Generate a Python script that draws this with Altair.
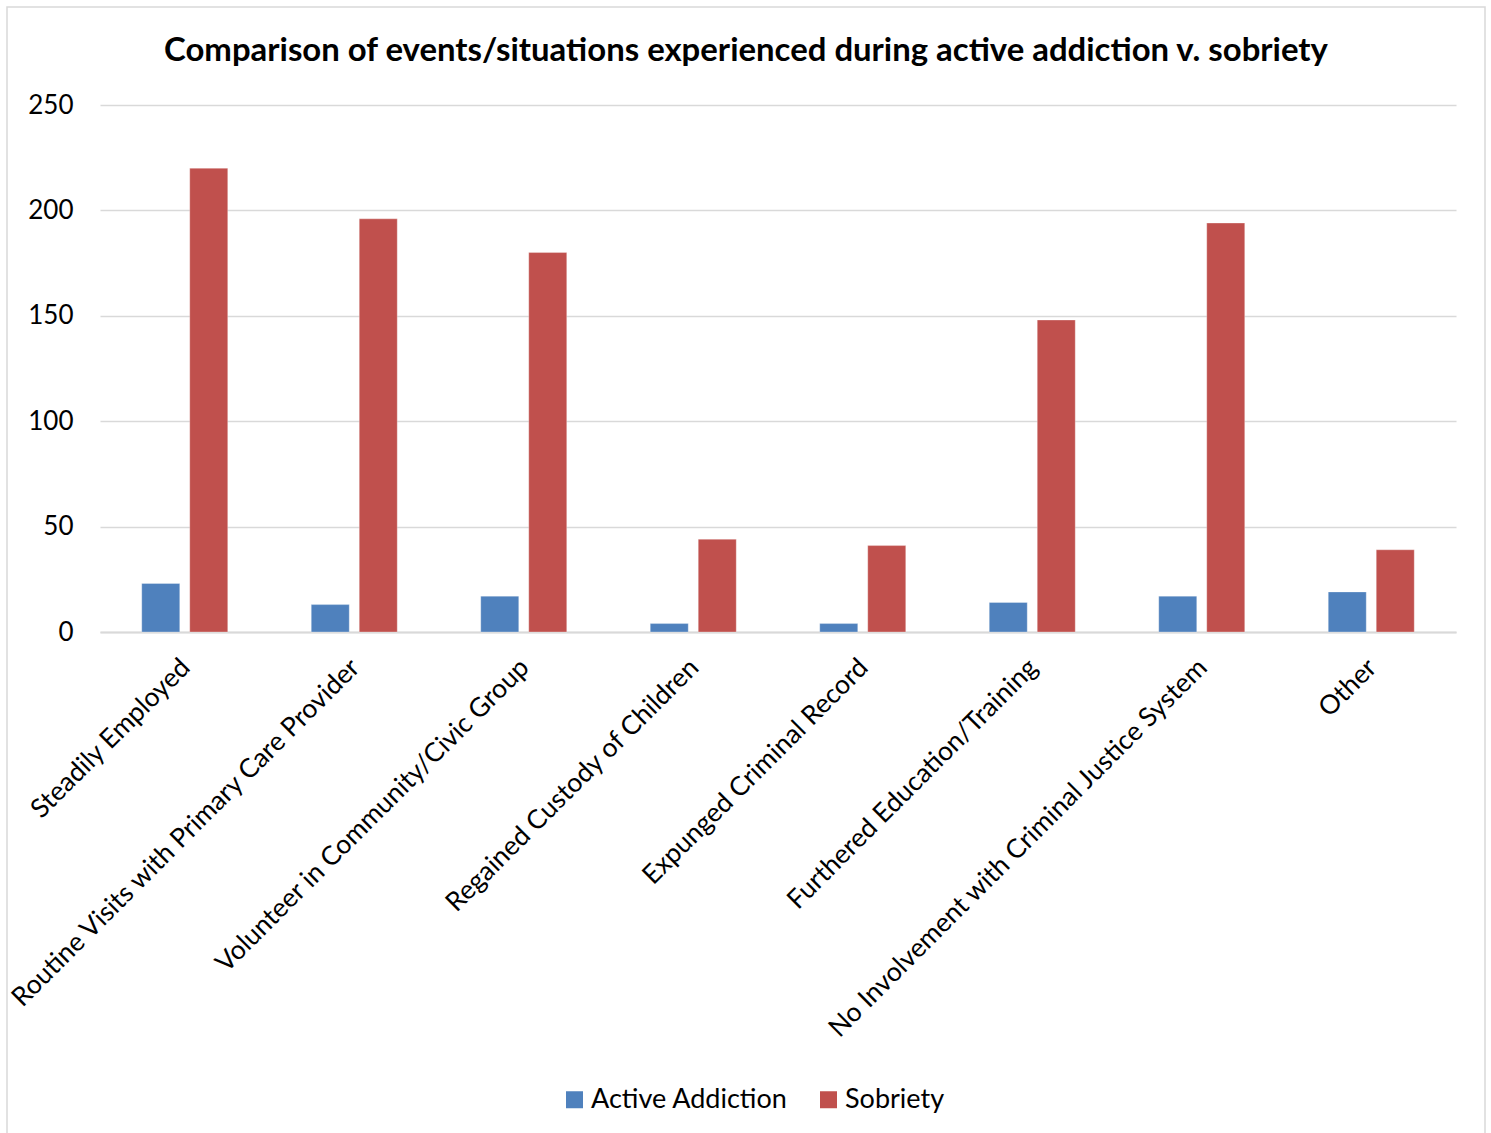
import altair as alt
import pandas as pd

categories = [
    "Steadily Employed",
    "Routine Visits with Primary Care Provider",
    "Volunteer in Community/Civic Group",
    "Regained Custody of Children",
    "Expunged Criminal Record",
    "Furthered Education/Training",
    "No Involvement with Criminal Justice System",
    "Other",
]
active_addiction = [23, 13, 17, 4, 4, 14, 17, 19]
sobriety = [220, 196, 180, 44, 41, 148, 194, 39]
series_names = ["Active Addiction", "Sobriety"]
series_colors = ["#4F81BD", "#C0504D"]
title_text = "Comparison of events/situations experienced during active addiction v. sobriety"

FONT = "Lato"

rows = []
for cat, a, s in zip(categories, active_addiction, sobriety):
    rows.append({"category": cat, "series": series_names[0], "value": a})
    rows.append({"category": cat, "series": series_names[1], "value": s})
df = pd.DataFrame(rows)

W, H = 1356, 527

bars = alt.Chart(df).mark_bar(stroke="white", strokeWidth=0.6, strokeOpacity=0.5).encode(
    x=alt.X(
        "category:N",
        sort=categories,
        scale=alt.Scale(paddingInner=0.4926, paddingOuter=0.2463),
        axis=alt.Axis(
            title=None,
            labelAngle=-45,
            labelAlign="right",
            labelBaseline="top",
            labelPadding=22,
            labelOffset=-8,
            labelFontSize=26.5,
            labelFont=FONT,
            labelColor="black",
            labelLimit=0,
            labelOverlap=False,
            ticks=False,
            domainColor="#d9d9d9",
            domainWidth=2,
        ),
    ),
    xOffset=alt.XOffset(
        "series:N",
        sort=series_names,
        scale=alt.Scale(paddingInner=0.2083, paddingOuter=0),
    ),
    y=alt.Y(
        "value:Q",
        scale=alt.Scale(domain=[0, 250], nice=False),
        axis=alt.Axis(
            title=None,
            values=[0, 50, 100, 150, 200, 250],
            labelFontSize=26,
            labelFont=FONT,
            labelColor="black",
            labelPadding=27,
            ticks=False,
            domain=False,
            gridColor="#d9d9d9",
            gridWidth=1.5,
        ),
    ),
    color=alt.Color(
        "series:N",
        sort=series_names,
        scale=alt.Scale(domain=series_names, range=series_colors),
        legend=alt.Legend(
            title=None,
            orient="none",
            direction="horizontal",
            legendX=461,
            legendY=981,
            symbolType="square",
            symbolSize=289,
            symbolStrokeWidth=0,
            labelFontSize=27,
            labelFont=FONT,
            labelColor="black",
            labelLimit=0,
            columnPadding=27,
            labelOffset=3,
        ),
    ),
)

# outer frame of the chart
frame = alt.Chart(pd.DataFrame({"k": [0]})).mark_rect(
    fill=None, stroke="#d9d9d9", strokeWidth=1.5
).encode(
    x=alt.value(-93), x2=alt.value(1385), y=alt.value(-98), y2=alt.value(1045)
)

heading = alt.Chart(pd.DataFrame({"t": [title_text]})).mark_text(
    font=FONT, fontSize=32.9, fontWeight="bold", color="black", baseline="alphabetic", align="center"
).encode(x=alt.value(646), y=alt.value(-44), text="t:N")

chart = (
    alt.layer(frame, bars, heading)
    .properties(
        width=W,
        height=H,
        padding={"left": 100, "top": 105, "right": 35, "bottom": 501},
        autosize=alt.AutoSizeParams(type="none"),
        background="white",
    )
    .configure_view(stroke=None)
)

chart.save("out.html", embed_options={"renderer": "svg", "actions": False})
